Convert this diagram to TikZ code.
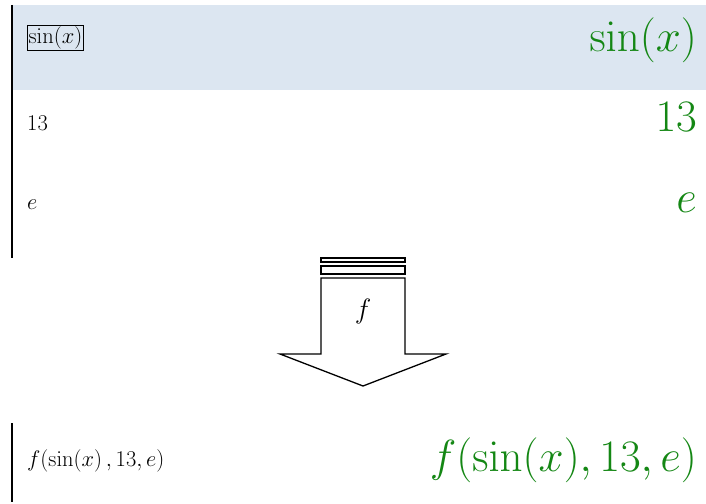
\RequirePackage{fix-cm}
\documentclass[tikz,border=0pt]{standalone}
\usetikzlibrary{positioning}
\definecolor{cellblue}{RGB}{220,230,241}
\definecolor{outgreen}{RGB}{20,135,20}
\begin{document}
\begin{tikzpicture}[x=1pt, y=-1pt, >=stealth,
		small/.style={anchor=west, inner sep=1pt, font=\fontsize{22.5}{26}\selectfont},
		big/.style={anchor=east, inner sep=0pt, text=outgreen, font=\fontsize{45}{52}\selectfont}]
	\useasboundingbox (0,0) rectangle (706,503);
	\fill[cellblue] (13,5) rectangle (706,90);
	\draw[line width=2pt] (12,5) -- (12,258);
	\draw[line width=2pt] (12,423) -- (12,502);
	% input cells
	\node[small, draw, line width=1.2pt] (insin) at (27,38) {$\sin(x)$};
	\node[small] (in13) at (26,123) {$13$};
	\node[small] (ine) at (26,205) {$e$};
	\node[big] (outsin) at (697,40) {$\sin(x)$};
	\node[big] (out13) at (697,117) {$13$};
	\node[big] (oute) at (697,203) {$e$};
	% the map
	\draw[line width=1.3pt] (321,258) rectangle (405,262);
	\draw[line width=1.3pt] (321,266) rectangle (405,274);
	\draw[line width=1.3pt] (321,278) -- (321,354) -- (280,354) -- (363,386) -- (446,354) -- (405,354) -- (405,278) -- cycle;
	\node (map) at (363,311) {\fontsize{28}{32}\selectfont$f$};
	% result cell
	\node[small] (inf) at (26,461) {$f(\sin(x)\,,13,e)$};
	\node[big] (outf) at (697,460) {$f(\sin(x),13,e)$};
\end{tikzpicture}
\end{document}
